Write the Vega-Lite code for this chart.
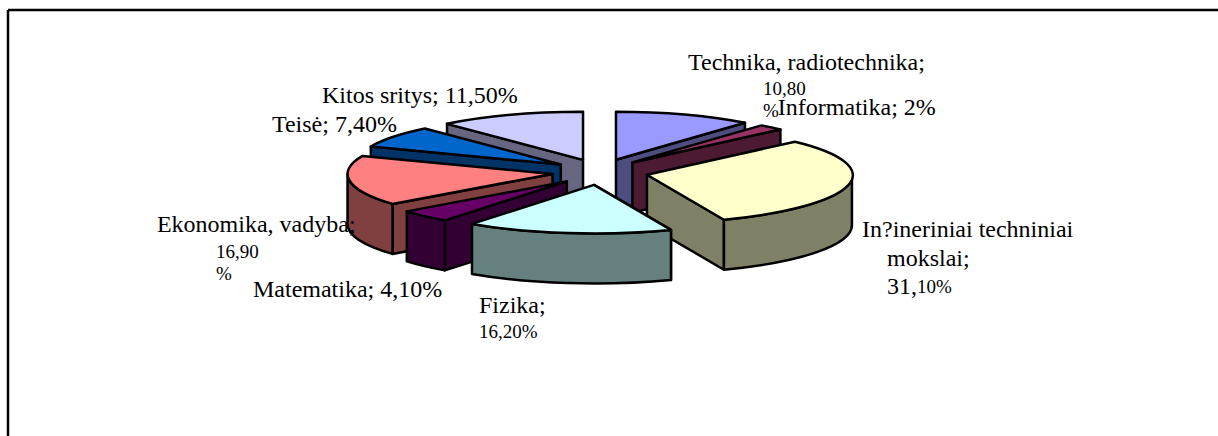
{
"$schema":"https://vega.github.io/schema/vega-lite/v6.json",
"width":1218,"height":436,"autosize":{"type":"fit","contains":"padding"},"padding":0,"background":"white",
"config":{"view":{"stroke":null}},
"params":[
{"name":"cx","value":600},{"name":"cy","value":172},
{"name":"rx","value":205},{"name":"ry","value":48},{"name":"depth","value":50},
{"name":"ex","value":48},{"name":"ey","value":13},
{"name":"bigDx","value":{"Technika, radiotechnika":3.8,"Informatika":7,"Inžineriniai techniniai mokslai":14.6,"Fizika":-89.3,"Matematika":-172.1,"Ekonomika, vadyba":-192.8,"Teisė":-121.5,"Kitos sritys":-188.6}},
{"name":"bigDy","value":{"Technika, radiotechnika":-44.5,"Informatika":-12,"Inžineriniai techniniai mokslai":52.3,"Fizika":80.5,"Matematika":80.9,"Ekonomika, vadyba":51,"Teisė":-4.8,"Kitos sritys":-12}},
{"name":"smallDx","value":{"Technika, radiotechnika":78.8,"Inžineriniai techniniai mokslai":69.6,"Fizika":-89.3,"Ekonomika, vadyba":-133.8}},
{"name":"smallDy","value":{"Technika, radiotechnika":-19.5,"Inžineriniai techniniai mokslai":108.3,"Fizika":105.5,"Ekonomika, vadyba":77}}
],
"data":{"values":[
{"slice":"Technika, radiotechnika","share":10.8,"clock":1,"big":"Technika, radiotechnika;","small":["10,80","%"],"big2":null},
{"slice":"Kitos sritys","share":11.5,"clock":8,"big":"Kitos sritys; 11,50%","small":null,"big2":null},
{"slice":"Informatika","share":2,"clock":2,"big":"Informatika; 2%","small":null,"big2":null},
{"slice":"Teisė","share":7.4,"clock":7,"big":"Teisė; 7,40%","small":null,"big2":null},
{"slice":"Inžineriniai techniniai mokslai","share":31.1,"clock":3,"big":"In?ineriniai techniniai","small":"10%","big2":["mokslai;","31,"]},
{"slice":"Ekonomika, vadyba","share":16.9,"clock":6,"big":"Ekonomika, vadyba;","small":["16,90","%"],"big2":null},
{"slice":"Matematika","share":4.1,"clock":5,"big":"Matematika; 4,10%","small":null,"big2":null},
{"slice":"Fizika","share":16.2,"clock":4,"big":"Fizika;","small":"16,20%","big2":null}
]},
"transform":[{"stack":"share","groupby":[],"sort":[{"field":"clock","order":"ascending"}],"as":["a0","a1"]}],
"layer":[
{"mark":{"type":"point","filled":true,"size":4,"opacity":1,"stroke":"black","strokeWidth":2.5,"strokeJoin":"round",
"x":{"expr":"cx+ex*sin(PI*(datum.a0+datum.a1)/100)"},
"y":{"expr":"cy-ey*cos(PI*(datum.a0+datum.a1)/100)"},
"shape":{"expr":"'M0,0L'+round(rx*sin(PI*(sin(PI*datum.a1/50)>0?datum.a1:datum.a0)/50))+','+round(-ry*cos(PI*(sin(PI*datum.a1/50)>0?datum.a1:datum.a0)/50))+'L'+round(rx*sin(PI*(sin(PI*datum.a1/50)>0?datum.a1:datum.a0)/50))+','+round(depth-ry*cos(PI*(sin(PI*datum.a1/50)>0?datum.a1:datum.a0)/50))+'L0,'+depth+'Z'"}},
"encoding":{"color":{"field":"slice","type":"nominal","legend":null,"scale":{"domain":["Technika, radiotechnika","Informatika","Inžineriniai techniniai mokslai","Fizika","Matematika","Ekonomika, vadyba","Teisė","Kitos sritys"],"range":["#4D4D80","#4D1A33","#808066","#668080","#330033","#804040","#003366","#666680"]}}}},
{"mark":{"type":"point","filled":true,"size":4,"opacity":1,"stroke":"black","strokeWidth":2.5,"strokeJoin":"round",
"x":{"expr":"cx+ex*sin(PI*(datum.a0+datum.a1)/100)"},
"y":{"expr":"cy-ey*cos(PI*(datum.a0+datum.a1)/100)"},
"shape":{"expr":"(datum.a0<75&&datum.a1>25)?'M'+round(rx*sin(PI*max(datum.a0,25)/50))+','+round(-ry*cos(PI*max(datum.a0,25)/50))+'A'+rx+','+ry+',0,0,1,'+round(rx*sin(PI*min(datum.a1,75)/50))+','+round(-ry*cos(PI*min(datum.a1,75)/50))+'L'+round(rx*sin(PI*min(datum.a1,75)/50))+','+round(depth-ry*cos(PI*min(datum.a1,75)/50))+'A'+rx+','+ry+',0,0,0,'+round(rx*sin(PI*max(datum.a0,25)/50))+','+round(depth-ry*cos(PI*max(datum.a0,25)/50))+'Z':'M0,0L0,0Z'"}},
"encoding":{"color":{"field":"slice","type":"nominal","legend":null,"scale":{"domain":["Technika, radiotechnika","Informatika","Inžineriniai techniniai mokslai","Fizika","Matematika","Ekonomika, vadyba","Teisė","Kitos sritys"],"range":["#4D4D80","#4D1A33","#808066","#668080","#330033","#804040","#003366","#666680"]}}}},
{"mark":{"type":"point","filled":true,"size":4,"opacity":1,"stroke":"black","strokeWidth":2.5,"strokeJoin":"round",
"x":{"expr":"cx+ex*sin(PI*(datum.a0+datum.a1)/100)"},
"y":{"expr":"cy-ey*cos(PI*(datum.a0+datum.a1)/100)"},
"shape":{"expr":"'M0,0L'+round(rx*sin(PI*datum.a0/50))+','+round(-ry*cos(PI*datum.a0/50))+'A'+rx+','+ry+',0,0,1,'+round(rx*sin(PI*datum.a1/50))+','+round(-ry*cos(PI*datum.a1/50))+'Z'"}},
"encoding":{"color":{"field":"slice","type":"nominal","legend":null,"scale":{"domain":["Technika, radiotechnika","Informatika","Inžineriniai techniniai mokslai","Fizika","Matematika","Ekonomika, vadyba","Teisė","Kitos sritys"],"range":["#9999FF","#993366","#FFFFCC","#CCFFFF","#660066","#FF8080","#0066CC","#CCCCFF"]}}}},
{"mark":{"type":"text","align":"left","baseline":"alphabetic","font":"Liberation Serif","fontSize":24,"color":"black",
"x":{"expr":"cx+(rx+ex)*sin(PI*(datum.a0+datum.a1)/100)"},
"y":{"expr":"cy-(ry+ey)*cos(PI*(datum.a0+datum.a1)/100)"},
"dx":{"expr":"bigDx[datum.slice]"},"dy":{"expr":"bigDy[datum.slice]"}},
"encoding":{"text":{"field":"big"}}},
{"transform":[{"filter":"datum.big2!=null"}],
"mark":{"type":"text","align":"left","baseline":"alphabetic","font":"Liberation Serif","fontSize":24,"lineHeight":28,"color":"black",
"x":{"expr":"cx+(rx+ex)*sin(PI*(datum.a0+datum.a1)/100)"},
"y":{"expr":"cy-(ry+ey)*cos(PI*(datum.a0+datum.a1)/100)"},
"dx":39.6,"dy":81.3},
"encoding":{"text":{"field":"big2"}}},
{"transform":[{"filter":"datum.small!=null"}],
"mark":{"type":"text","align":"left","baseline":"alphabetic","font":"Liberation Serif","fontSize":19,"lineHeight":22,"color":"black",
"x":{"expr":"cx+(rx+ex)*sin(PI*(datum.a0+datum.a1)/100)"},
"y":{"expr":"cy-(ry+ey)*cos(PI*(datum.a0+datum.a1)/100)"},
"dx":{"expr":"smallDx[datum.slice]"},"dy":{"expr":"smallDy[datum.slice]"}},
"encoding":{"text":{"field":"small"}}},
{"data":{"values":[{"edge":"left"}]},"mark":{"type":"rule","stroke":"black","strokeWidth":2.5},"encoding":{"x":{"value":8},"y":{"value":10},"y2":{"value":436}}},
{"data":{"values":[{"edge":"top"}]},"mark":{"type":"rule","stroke":"black","strokeWidth":2.5},"encoding":{"y":{"value":10},"x":{"value":8},"x2":{"value":1218}}}
],
"resolve":{"scale":{"color":"independent"}}
}
